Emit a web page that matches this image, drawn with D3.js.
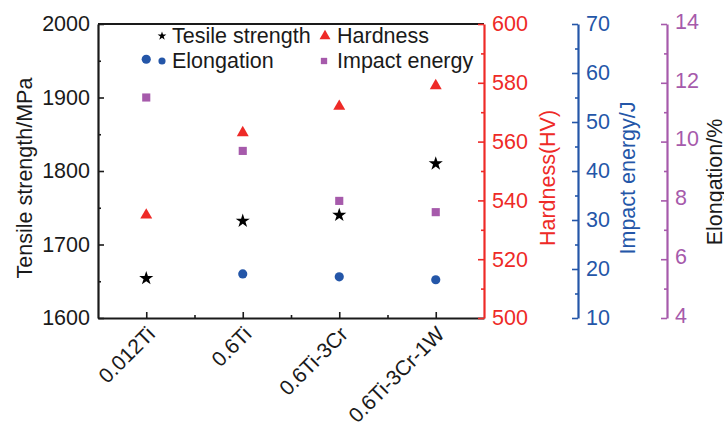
<!DOCTYPE html>
<html>
<head>
<meta charset="utf-8">
<script src="https://cdn.jsdelivr.net/npm/d3@7"></script>
<style>
  html, body { margin: 0; padding: 0; background: #fff; }
  svg { display: block; font-family: "Liberation Sans", Arial, sans-serif; }
</style>
</head>
<body>
<svg id="chart" width="724" height="423"></svg>
<script>
// ---- data ----
const categories = ["0.012Ti", "0.6Ti", "0.6Ti-3Cr", "0.6Ti-3Cr-1W"];
const tensileStrength = [1654, 1732, 1740, 1810];   // MPa, left axis
const hardness = [535, 563, 572, 579];              // HV, red axis
const impactEnergy = [55, 44.1, 33.9, 31.6];        // J, blue axis
const elongation = [12.8, 5.5, 5.4, 5.3];           // %, purple axis

const tensileTicks = [1600, 1700, 1800, 1900, 2000];
const hardnessTicks = [500, 520, 540, 560, 580, 600];
const impactTicks = [10, 20, 30, 40, 50, 60, 70];
const elongTicks = [4, 6, 8, 10, 12, 14];

// ---- layout ----
const svg = d3.select("#chart");
const L = 98, R = 484, T = 24, B = 318;
const RED = "#ee2a27", BLUE = "#2456a8", PURPLE = "#a65aab", BLACK = "#1a1a1a";
const FS = 21.5;

const x = d3.scaleLinear().domain([0, categories.length]).range([L, R]);
const yT = d3.scaleLinear().domain([1600, 2000]).range([B, T]);
const yH = d3.scaleLinear().domain([500, 600]).range([B, T]);
const yI = d3.scaleLinear().domain([10, 70]).range([B, T]);
const yE = d3.scaleLinear().domain([4, 14]).range([B, T]);

const axisX = { red: R, blue: 578, purple: 667 };

function styleAxis(g, color, sw) {
  g.selectAll("path.domain").attr("stroke", color).attr("stroke-width", sw);
  g.selectAll(".tick line").attr("stroke", color).attr("stroke-width", 1.6);
  g.selectAll(".tick text").attr("fill", color).attr("font-size", FS)
    .attr("font-family", "Liberation Sans, Arial, sans-serif");
}

// top frame line
svg.append("line").attr("x1", L).attr("x2", R).attr("y1", T).attr("y2", T)
  .attr("stroke", BLACK).attr("stroke-width", 2.2);

// left axis
const gL = svg.append("g").attr("transform", `translate(${L},0)`);
gL.call(d3.axisLeft(yT).tickValues(tensileTicks).tickFormat(d3.format("d"))
  .tickSize(-6).tickSizeOuter(0).tickPadding(8));
styleAxis(gL, BLACK, 2.2);
const gLm = svg.append("g").attr("transform", `translate(${L},0)`);
gLm.call(d3.axisLeft(yT).tickValues(d3.range(1650, 2000, 100)).tickFormat("")
  .tickSize(-3).tickSizeOuter(0));
gLm.select("path.domain").remove();
styleAxis(gLm, BLACK, 2.2);

// bottom axis (linear positions, category labels)
const gB = svg.append("g").attr("transform", `translate(0,${B})`);
gB.call(d3.axisBottom(x).tickValues(categories.map((c, i) => i + 0.5))
  .tickFormat((d, i) => categories[i]).tickSize(-6).tickSizeOuter(0).tickPadding(0));
styleAxis(gB, BLACK, 2.2);
gB.selectAll(".tick text")
  .attr("text-anchor", "end")
  .attr("font-size", 21)
  .attr("dy", 0).attr("y", 0)
  .attr("transform", "translate(9.5,17.5) rotate(-45)");
const gBm = svg.append("g").attr("transform", `translate(0,${B})`);
gBm.call(d3.axisBottom(x).tickValues(d3.range(1, categories.length)).tickFormat("")
  .tickSize(-3).tickSizeOuter(0));
gBm.select("path.domain").remove();
styleAxis(gBm, BLACK, 2.2);

// right axes
function rightAxis(scale, xpos, ticks, minorTicks, color, dy) {
  const g = svg.append("g").attr("transform", `translate(${xpos},0)`);
  g.call(d3.axisRight(scale).tickValues(ticks).tickFormat(d3.format("d"))
    .tickSize(-6).tickSizeOuter(0).tickPadding(8));
  styleAxis(g, color, 2.2);
  if (dy) g.selectAll(".tick text").attr("dy", dy);
  const gm = svg.append("g").attr("transform", `translate(${xpos},0)`);
  gm.call(d3.axisRight(scale).tickValues(minorTicks).tickFormat("")
    .tickSize(-3).tickSizeOuter(0));
  gm.select("path.domain").remove();
  styleAxis(gm, color, 2.2);
}
rightAxis(yH, axisX.red, hardnessTicks, d3.range(510, 600, 20), RED);
rightAxis(yI, axisX.blue, impactTicks, d3.range(15, 70, 10), BLUE);
rightAxis(yE, axisX.purple, elongTicks, d3.range(5, 14, 2), PURPLE, "0.2em");

// axis titles
function vTitle(text, bx, cy, color) {
  svg.append("text").attr("transform", `translate(${bx},${cy}) rotate(-90)`)
    .attr("text-anchor", "middle").attr("font-size", FS).attr("fill", color)
    .text(text);
}
vTitle("Tensile strength/MPa", 32, 178, BLACK);
vTitle("Hardness(HV)", 555, 178, RED);
vTitle("Impact energy/J", 635, 178, BLUE);
vTitle("Elongation/%", 722, 182, BLACK);

// data markers
const sym = (type, size) => d3.symbol().type(type).size(size)();
const cx = i => x(i + 0.5);
const series = [
  { vals: impactEnergy, scale: yI, type: d3.symbolSquare, size: 66, color: PURPLE },
  { vals: hardness, scale: yH, type: d3.symbolTriangle, size: 62, color: RED },
  { vals: elongation, scale: yE, type: d3.symbolCircle, size: 66, color: BLUE },
  { vals: tensileStrength, scale: yT, type: d3.symbolStar, size: 62, color: "#000" }
];
series.forEach(s => {
  svg.append("g").selectAll("path").data(s.vals).join("path")
    .attr("transform", (d, i) => `translate(${cx(i)},${s.scale(d)})`)
    .attr("d", sym(s.type, s.size)).attr("fill", s.color);
});

// legend
const legend = [
  { label: "Tesile strength", type: d3.symbolStar, size: 24, color: "#000", mx: 162, tx: 172, y: 43 },
  { label: "Hardness", type: d3.symbolTriangle, size: 52, color: RED, mx: 325, tx: 337, y: 43 },
  { label: "Elongation", type: d3.symbolCircle, size: 40, color: BLUE, mx: 162, tx: 172, y: 68 },
  { label: "Impact energy", type: d3.symbolSquare, size: 40, color: PURPLE, mx: 324, tx: 337, y: 68 }
];
const lg = svg.append("g");
legend.forEach(l => {
  lg.append("path").attr("transform", `translate(${l.mx},${l.y - 7})`)
    .attr("d", sym(l.type, l.size)).attr("fill", l.color);
  lg.append("text").attr("x", l.tx).attr("y", l.y).attr("font-size", FS)
    .attr("fill", BLACK).text(l.label);
});
</script>
</body>
</html>
